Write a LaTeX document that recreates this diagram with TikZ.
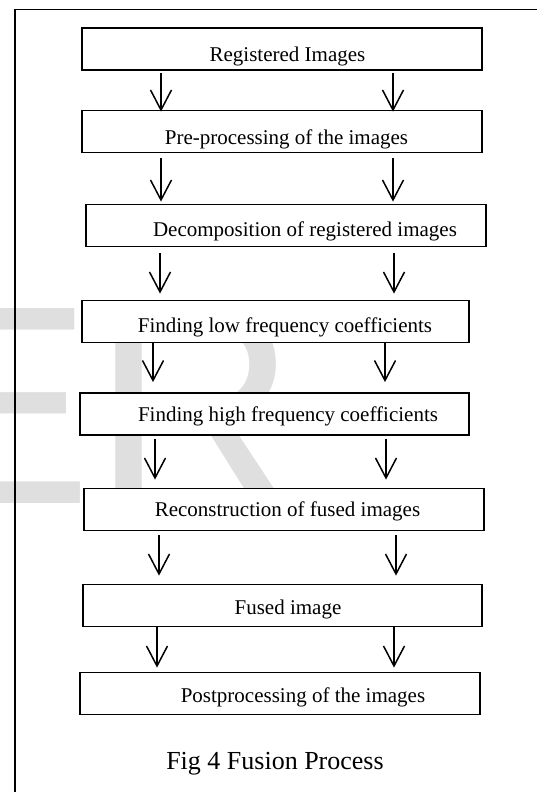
\documentclass[tikz,border=0pt]{standalone}
\usepackage{fontspec}
\setmainfont{Liberation Serif}
\newfontfamily\wmfont{Liberation Sans}
\usetikzlibrary{arrows.meta}

\begin{document}
\begin{tikzpicture}[x=1pt,y=-1pt,
  stage/.style={draw, line width=1.8pt, fill=white, minimum width=400pt,
    minimum height=42pt, inner ysep=0pt, text depth=0pt,
    font=\fontsize{21}{25}\selectfont},
  flow/.style={line width=1.5pt, -{Straight Barb[length=20pt,width=21pt]}}]

\useasboundingbox (0,0) rectangle (537,792);

% watermark
\node[anchor=base west, inner sep=0pt, text=gray!25,
  font={\wmfont\fontsize{283.5}{283.5}\selectfont}] (wm) at (-96.4,503) {ER};

% frame
\draw [line width=1.6pt] (15,792)--(15,9.5)--(537,9.5);

\node[stage, text height=26pt] (reg) at (282,49) {\hspace*{11pt}Registered Images};
\node[stage, text height=26pt] (pre) at (282,131.5) {\hspace*{9pt}Pre-processing of the images};
\node[stage, text height=22pt] (dec) at (286,225.5) {\hspace*{38pt}Decomposition of registered images};
\node[stage, text height=22pt, minimum width=387pt] (low) at (275.5,321.5) {\hspace*{19pt}Finding low frequency coefficients};
\node[stage, text height=14pt, minimum width=389pt] (high) at (274.5,414) {\hspace*{27pt}Finding high frequency coefficients};
\node[stage, text height=14pt] (rec) at (284,509.5) {\hspace*{7pt}Reconstruction of fused images};
\node[stage, text height=18pt, minimum width=399pt] (fused) at (282.5,605.5) {\hspace*{11pt}Fused image};
\node[stage, text height=18pt] (post) at (280,693.5) {\hspace*{46pt}Postprocessing of the images};

% arrows, two per step
\draw [flow, shorten <=2pt, shorten >=-2pt] (reg.south -| 161,0)--(pre.north -| 161,0);
\draw [flow, shorten <=2pt, shorten >=-2pt] (reg.south -| 393,0)--(pre.north -| 393,0);

\draw [flow, shorten <=5pt, shorten >=2pt] (pre.south -| 161,0)--(dec.north -| 161,0);
\draw [flow, shorten <=5pt, shorten >=2pt] (pre.south -| 393,0)--(dec.north -| 393,0);

\draw [flow, shorten <=6pt, shorten >=6pt] (dec.south -| 160,0)--(low.north -| 160,0);
\draw [flow, shorten <=6pt, shorten >=6pt] (dec.south -| 394,0)--(low.north -| 394,0);

\draw [flow, shorten >=10pt] (low.south -| 153,0)--(high.north -| 153,0);
\draw [flow, shorten >=10pt] (low.south -| 385,0)--(high.north -| 385,0);

\draw [flow, shorten <=3pt, shorten >=8pt] (high.south -| 155,0)--(rec.north -| 155,0);
\draw [flow, shorten <=3pt, shorten >=8pt] (high.south -| 386,0)--(rec.north -| 386,0);

\draw [flow, shorten <=4pt, shorten >=8pt] (rec.south -| 159,0)--(fused.north -| 159,0);
\draw [flow, shorten <=4pt, shorten >=8pt] (rec.south -| 396,0)--(fused.north -| 396,0);

\draw [flow, shorten >=4pt] (fused.south -| 157,0)--(post.north -| 157,0);
\draw [flow, shorten >=4pt] (fused.south -| 394,0)--(post.north -| 394,0);

\node[anchor=base, font=\fontsize{26}{30}\selectfont] (cap) at (275,769) {Fig 4 Fusion Process};

\end{tikzpicture}
\end{document}
